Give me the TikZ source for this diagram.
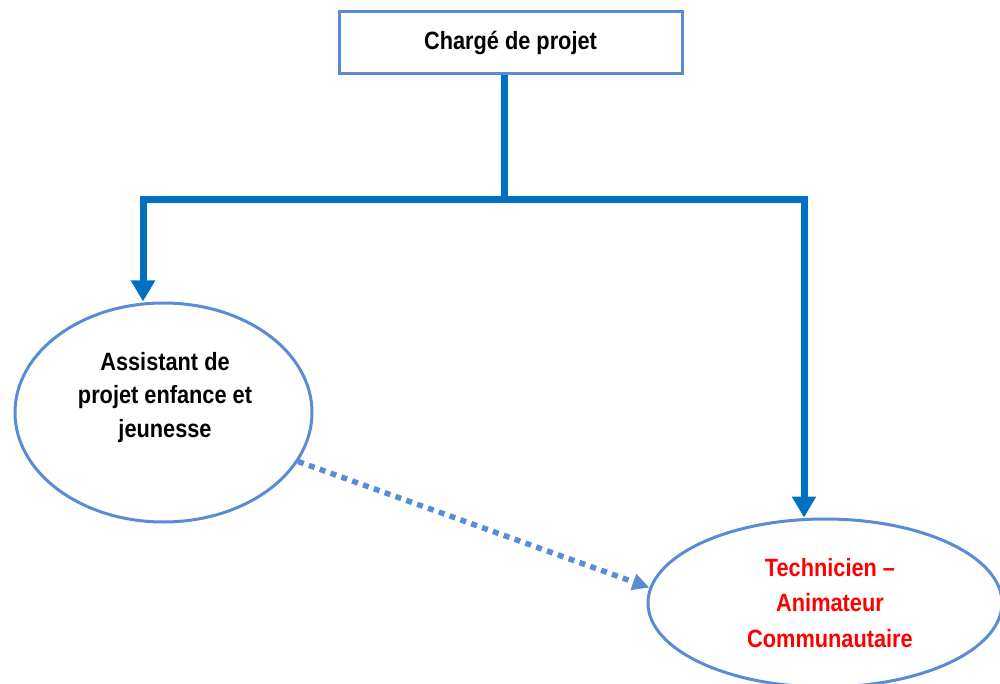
\documentclass[tikz,border=0pt]{standalone}
\usepackage{fontspec}
\setmainfont{Liberation Sans}[FakeStretch=0.87]
\usetikzlibrary{shapes.geometric,arrows.meta}
\definecolor{shapeblue}{RGB}{88,140,214}
\definecolor{connblue}{RGB}{0,112,192}
\definecolor{techred}{RGB}{255,0,0}
\tikzset{
  boxnode/.style={draw=shapeblue, line width=3pt, fill=white, rectangle, minimum width=343pt, minimum height=62pt, inner sep=0pt},
  ellnode/.style={draw=shapeblue, line width=3pt, ellipse, inner sep=0pt},
  lbl/.style={font=\fontsize{25pt}{33.5pt}\selectfont\bfseries, align=center, inner sep=0pt},
  conn/.style={draw=connblue, line width=7pt},
  connarrow/.style={conn, -{Triangle[length=21pt,width=23pt]}},
  dotarrow/.style={draw=shapeblue, line width=5.5pt, dash pattern=on 6pt off 5.5pt, -{Triangle[length=17pt,width=16pt]}}
}
\begin{document}
\begin{tikzpicture}[x=1pt,y=-1pt]
\useasboundingbox (0,0) rectangle (1000,684);
\node[boxnode, lbl] (boss) at (510.5,42.5) {Chargé de projet};
\node[ellnode, minimum width=297pt, minimum height=219pt] (asst) at (163.5,412.5) {};
\node[lbl] (asstt) at (165,397.5) {Assistant de\\projet enfance et\\jeunesse};
\node[ellnode, minimum width=354pt, minimum height=168pt] (tech) at (825,603) {};
\node[lbl, text=techred, font=\fontsize{25pt}{35.5pt}\selectfont\bfseries] (techt) at (830,603) {Technicien –\\Animateur\\Communautaire};
\coordinate (j) at (504,200);
\draw[conn] ([xshift=-6.5pt]boss.south) -- (j);
\draw[connarrow] (j) -| ([xshift=-20.5pt]asst.north);
\draw[connarrow] (j) -| ([xshift=-21pt]tech.north);
\draw[dotarrow] (asst.-20) -- (tech.175);
\end{tikzpicture}
\end{document}
